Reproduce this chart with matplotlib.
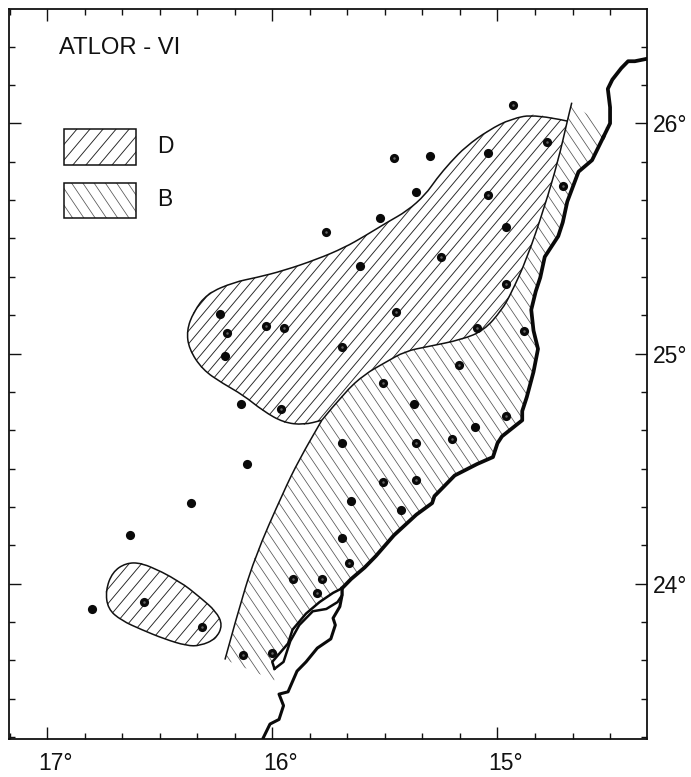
#!/usr/bin/env python3
"""Station map ATLOR-VI off the Saharan coast, with hatched zones D and B."""

import numpy as np
import matplotlib
matplotlib.use('Agg')
import matplotlib.pyplot as plt
from matplotlib.collections import LineCollection
from matplotlib.patches import PathPatch, Rectangle
from matplotlib.path import Path
from matplotlib.ticker import MultipleLocator
from matplotlib.transforms import ScaledTranslation

plt.rcParams['font.family'] = ['Liberation Sans', 'DejaVu Sans']

# all positions are (degrees west, degrees north)
stations_solid = [
    (15.30, 25.86), (15.36, 25.70), (15.52, 25.59), (15.04, 25.87), (14.96, 25.55),
    (15.61, 25.38), (16.23, 25.17), (16.21, 24.99), (16.14, 24.78), (16.11, 24.52),
    (16.36, 24.35), (16.63, 24.21), (16.80, 23.89), (15.43, 24.32), (15.10, 24.68),
    (15.37, 24.78), (15.69, 24.61), (15.65, 24.36), (15.69, 24.20),
]
stations_ringed = [
    (14.93, 26.08), (15.46, 25.85), (14.78, 25.92), (14.71, 25.73), (15.04, 25.69),
    (15.76, 25.53), (15.25, 25.42), (14.96, 25.30), (15.45, 25.18), (15.09, 25.11),
    (14.88, 25.10), (15.17, 24.95), (15.51, 24.87), (14.96, 24.73), (15.20, 24.63),
    (15.36, 24.61), (15.51, 24.44), (15.36, 24.45), (16.20, 25.09), (16.03, 25.12),
    (15.95, 25.11), (15.69, 25.03), (15.96, 24.76), (16.57, 23.92), (16.31, 23.81),
    (16.13, 23.69), (16.00, 23.70), (15.91, 24.02), (15.78, 24.02), (15.80, 23.96),
    (15.66, 24.09),
]

# outer edge of zone D, from its north-east corner round the west side
zone_d_edge = [
    (14.69, 26.01), (14.83, 26.04), (14.94, 26.02), (15.04, 25.97), (15.14, 25.90),
    (15.21, 25.83), (15.27, 25.76), (15.32, 25.69), (15.40, 25.62), (15.49, 25.57),
    (15.59, 25.51), (15.68, 25.46), (15.80, 25.41), (15.95, 25.36), (16.07, 25.33),
    (16.17, 25.31), (16.29, 25.26), (16.35, 25.18), (16.38, 25.10), (16.37, 25.02),
    (16.31, 24.93), (16.22, 24.87), (16.13, 24.82), (16.04, 24.75), (15.95, 24.70),
    (15.86, 24.69), (15.78, 24.71),
]
# line between D and B, south-west to north-east
zone_boundary = [
    (15.78, 24.71), (15.68, 24.83), (15.59, 24.91), (15.50, 24.96), (15.41, 25.01),
    (15.31, 25.03), (15.16, 25.06), (15.06, 25.10), (14.98, 25.19), (14.94, 25.26),
    (14.87, 25.41), (14.79, 25.64), (14.73, 25.84), (14.69, 26.01), (14.67, 26.09),
]
zone_b_west = [
    (16.21, 23.67), (16.16, 23.85), (16.08, 24.11), (15.95, 24.40), (15.88, 24.54),
    (15.78, 24.71),
]
zone_b_north_end = [(14.67, 26.09), (14.52, 25.98)]
zone_b_south_end = [(15.99, 23.58), (16.21, 23.67)]

zone_small = [
    (16.49, 24.05), (16.41, 24.01), (16.32, 23.94), (16.25, 23.88), (16.22, 23.82),
    (16.25, 23.76), (16.32, 23.73), (16.38, 23.73), (16.48, 23.76), (16.58, 23.80),
    (16.67, 23.84), (16.73, 23.89), (16.74, 23.97), (16.71, 24.05), (16.65, 24.09),
    (16.58, 24.09), (16.49, 24.05),
]

coast_south = [
    (16.04, 23.33), (16.01, 23.39), (15.97, 23.41), (15.95, 23.47), (15.97, 23.52),
    (15.93, 23.53), (15.89, 23.62), (15.85, 23.66), (15.80, 23.72), (15.74, 23.76),
    (15.72, 23.82), (15.73, 23.85), (15.70, 23.90), (15.69, 23.95), (15.69, 23.98),
]
coast_zone_b = [
    (15.69, 23.98), (15.65, 24.02), (15.59, 24.07), (15.54, 24.12), (15.46, 24.21),
    (15.36, 24.30), (15.29, 24.35), (15.28, 24.38), (15.19, 24.47), (15.09, 24.52),
    (15.02, 24.55), (15.00, 24.61), (14.98, 24.64), (14.89, 24.71), (14.89, 24.75),
    (14.87, 24.81), (14.84, 24.92), (14.82, 25.02), (14.84, 25.10), (14.85, 25.19),
    (14.83, 25.27), (14.81, 25.33), (14.79, 25.42), (14.73, 25.51), (14.71, 25.57),
    (14.69, 25.66), (14.64, 25.79), (14.58, 25.84), (14.53, 25.94),
]
coast_north = [
    (14.53, 25.94), (14.50, 26.00), (14.50, 26.07), (14.51, 26.15), (14.49, 26.19),
    (14.45, 26.24), (14.42, 26.27), (14.39, 26.27), (14.34, 26.28),
]
peninsula_west = [
    (15.99, 23.63), (16.00, 23.66), (15.93, 23.74), (15.91, 23.80), (15.85, 23.87),
    (15.79, 23.92), (15.73, 23.96), (15.69, 23.98),
]
peninsula_east = [
    (15.69, 23.98), (15.69, 23.95), (15.71, 23.92), (15.76, 23.89), (15.82, 23.88),
    (15.88, 23.82), (15.92, 23.75), (15.95, 23.66), (15.99, 23.63),
]

legend_d_box = (16.923, 25.820, -0.319, 0.156)
legend_b_box = (16.923, 25.590, -0.319, 0.152)
x_major = [17, 16, 15]
y_major = [24, 25, 26]


def smooth_path(points):
    """Open path through the midpoints of points, keeping both ends."""
    pts = np.array(points)
    verts = [pts[0]]
    codes = [Path.MOVETO]
    for a, b in zip(pts[1:-1], pts[2:]):
        verts += [a, (a + b) / 2]
        codes += [Path.CURVE3, Path.CURVE3]
    verts.append(pts[-1])
    codes.append(Path.LINETO)
    return Path(verts, codes)


def hatch(ax, clip_patch, step, run, color, lw):
    """Draw parallel lines and clip them to clip_patch (custom spacing and angle)."""
    segs = [[(c, 23.0), (c + run * 4, 27.0)] for c in np.arange(8, 24, step)]
    lines = LineCollection(segs, colors=color, linewidths=lw, zorder=2)
    ax.add_collection(lines, autolim=False)
    lines.set_clip_path(clip_patch)


def hatched_polygon(ax, points, step, run, color, lw):
    patch = PathPatch(Path(points), fc='none', ec='none', zorder=1)
    ax.add_patch(patch)
    hatch(ax, patch, step, run, color, lw)


def legend_box(ax, box, step, run, color, lw):
    rect = Rectangle(box[:2], box[2], box[3], fc='none', ec='#111111', lw=1.1, zorder=3)
    ax.add_patch(rect)
    hatch(ax, rect, step, run, color, lw)


fig = plt.figure(figsize=(6.91, 7.77), dpi=100)
ax = fig.add_axes([9 / 691, 38 / 777, 638 / 691, 730 / 777])
ax.set_xlim(17.169, 14.336)
ax.set_ylim(23.325, 26.497)

D_STYLE = dict(run=-0.86, color='#222222', lw=0.65)
B_STYLE = dict(run=0.69, color='#555555', lw=0.55)

# zones
zone_d_outline = zone_d_edge + zone_boundary[1:-1]
hatched_polygon(ax, zone_d_outline, step=0.048, **D_STYLE)
hatched_polygon(ax, zone_small, step=0.055, **D_STYLE)
zone_b_outline = (zone_b_west + zone_boundary[1:] + zone_b_north_end[1:]
                  + coast_zone_b[::-1] + peninsula_west[::-1] + zone_b_south_end)
hatched_polygon(ax, zone_b_outline, step=0.046, **B_STYLE)

for edge in (zone_d_edge, zone_boundary, zone_b_west, zone_small):
    ax.add_patch(PathPatch(smooth_path(edge), fc='none', ec='#111111', lw=1.1, zorder=3))

# coast
for shore, lw in ((coast_south, 2.2), (coast_zone_b, 2.7), (coast_north, 2.7),
                  (peninsula_west, 1.8), (peninsula_east, 1.8)):
    xs, ys = zip(*shore)
    ax.plot(xs, ys, color='#0a0a0a', lw=lw, solid_joinstyle='round', zorder=4)

# stations
xs, ys = zip(*stations_solid)
ax.plot(xs, ys, 'o', color='#0a0a0a', ms=6.6, mew=0, zorder=5)
xs, ys = zip(*stations_ringed)
ax.plot(xs, ys, 'o', color='#0a0a0a', ms=6.6, mew=0, zorder=5)
ax.plot(xs, ys, 'o', color='#666666', ms=1.8, mew=0, zorder=6)

# legend and labels
legend_box(ax, legend_d_box, step=0.058, **D_STYLE)
legend_box(ax, legend_b_box, step=0.050, **B_STYLE)
ax.text(16.51, 25.90, 'D', fontsize=16.5, va='center', color='#111111')
ax.text(16.51, 25.67, 'B', fontsize=16.5, va='center', color='#111111')
ax.text(0.078, 0.9466, 'ATLOR - VI', transform=ax.transAxes, fontsize=17.2,
        va='center', color='#111111')

# axes
ax.set_xticks(x_major)
ax.set_yticks(y_major)
ax.xaxis.set_minor_locator(MultipleLocator(1 / 6))
ax.yaxis.set_minor_locator(MultipleLocator(1 / 6))
ax.set_xticklabels([f'{v}°' for v in x_major])
ax.set_yticklabels([f'{v}°' for v in y_major])
ax.tick_params(which='both', direction='in', top=True, bottom=True, left=True, right=True,
               labelleft=False, labelright=True, color='#111111')
ax.tick_params(which='major', length=8.6, width=1.0, labelsize=16.5, labelcolor='#111111')
ax.tick_params(which='minor', length=4.5, width=1.0)
ax.tick_params(axis='x', which='major', pad=9)
ax.tick_params(axis='y', which='major', pad=4)
for spine in ax.spines.values():
    spine.set_linewidth(1.3)
    spine.set_color('#111111')
nudge = ScaledTranslation(8 / 100, 0, fig.dpi_scale_trans)
for label in ax.get_xticklabels():
    label.set_transform(label.get_transform() + nudge)

fig.savefig('out.png', dpi=100)
